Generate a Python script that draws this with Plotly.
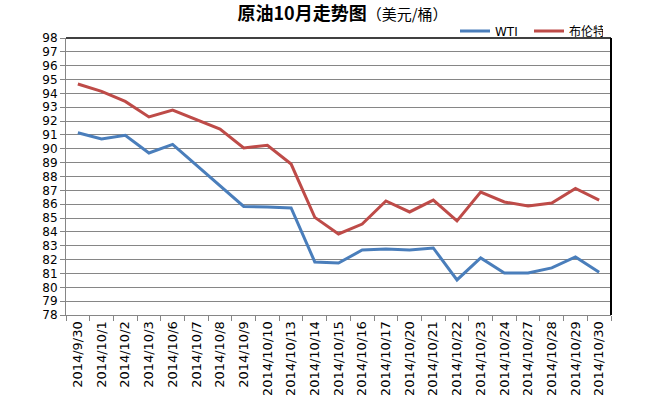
import plotly.graph_objects as go

dates = ["2014/9/30", "2014/10/1", "2014/10/2", "2014/10/3", "2014/10/6", "2014/10/7",
         "2014/10/8", "2014/10/9", "2014/10/10", "2014/10/13", "2014/10/14", "2014/10/15",
         "2014/10/16", "2014/10/17", "2014/10/20", "2014/10/21", "2014/10/22", "2014/10/23",
         "2014/10/24", "2014/10/27", "2014/10/28", "2014/10/29", "2014/10/30"]

wti = [91.16, 90.71, 90.97, 89.70, 90.32, 88.82, 87.32, 85.84, 85.80, 85.73, 81.83, 81.75,
       82.69, 82.76, 82.69, 82.84, 80.53, 82.12, 81.03, 81.03, 81.40, 82.19, 81.08]

brent = [94.68, 94.15, 93.42, 92.30, 92.80, 92.10, 91.43, 90.06, 90.25, 88.90, 85.05, 83.85,
         84.57, 86.23, 85.44, 86.30, 84.79, 86.88, 86.16, 85.87, 86.09, 87.14, 86.30]

y_ticks = list(range(78, 99))

FONT = "DejaVu Sans, Noto Sans CJK SC, sans-serif"
CJK = "Noto Sans CJK SC, sans-serif"

fig = go.Figure()
fig.add_trace(go.Scatter(x=dates, y=wti, mode="lines", name="WTI",
                         line=dict(color="#4A7EBB", width=3)))
fig.add_trace(go.Scatter(x=dates, y=brent, mode="lines", name="布伦特",
                         line=dict(color="#BE4B48", width=3)))

fig.update_layout(
    width=650, height=395,
    margin=dict(l=66, r=39, t=38, b=80, autoexpand=False),
    paper_bgcolor="white", plot_bgcolor="white",
    font=dict(family=FONT, color="black", size=12),
    title=dict(text="<b>原油10月走势图</b><span style='font-size:15px'>（美元/桶）</span>",
               x=342.5 / 650, xanchor="center", xref="container",
               y=1 - 14 / 395, yanchor="middle", yref="container",
               font=dict(family=CJK, size=18, color="black")),
    legend=dict(orientation="h", x=(455 - 66) / 545, xanchor="left", xref="paper",
                y=(395 - 31 - 80) / 277, yanchor="middle", yref="paper",
                font=dict(family=FONT, size=12), entrywidth=29,
                bgcolor="rgba(0,0,0,0)"),
    showlegend=True,
)

fig.update_xaxes(type="category", range=[-0.5, len(dates) - 0.5],
                 tickangle=-90, tickson="boundaries", ticks="outside", ticklen=5,
                 tickcolor="#868686", showline=True, linecolor="#868686", linewidth=1,
                 showgrid=False, tickfont=dict(size=13, family=FONT))
fig.update_yaxes(range=[78, 98], tickvals=y_ticks, ticktext=[str(v) for v in y_ticks],
                 ticks="outside", ticklen=5, tickcolor="#868686",
                 showline=True, linecolor="#868686", linewidth=1,
                 showgrid=True, gridcolor="#868686", gridwidth=1,
                 zeroline=False, tickfont=dict(size=12, family=FONT))

fig.add_shape(type="line", xref="paper", yref="paper", x0=0, x1=1, y0=1, y1=1,
              line=dict(color="black", width=1.5), layer="above")
fig.add_shape(type="line", xref="paper", yref="paper", x0=1, x1=1, y0=0, y1=1,
              line=dict(color="black", width=2), layer="above")

fig.write_html("out.html", config={"displayModeBar": False},
               post_script="document.body.style.margin='0px';")
